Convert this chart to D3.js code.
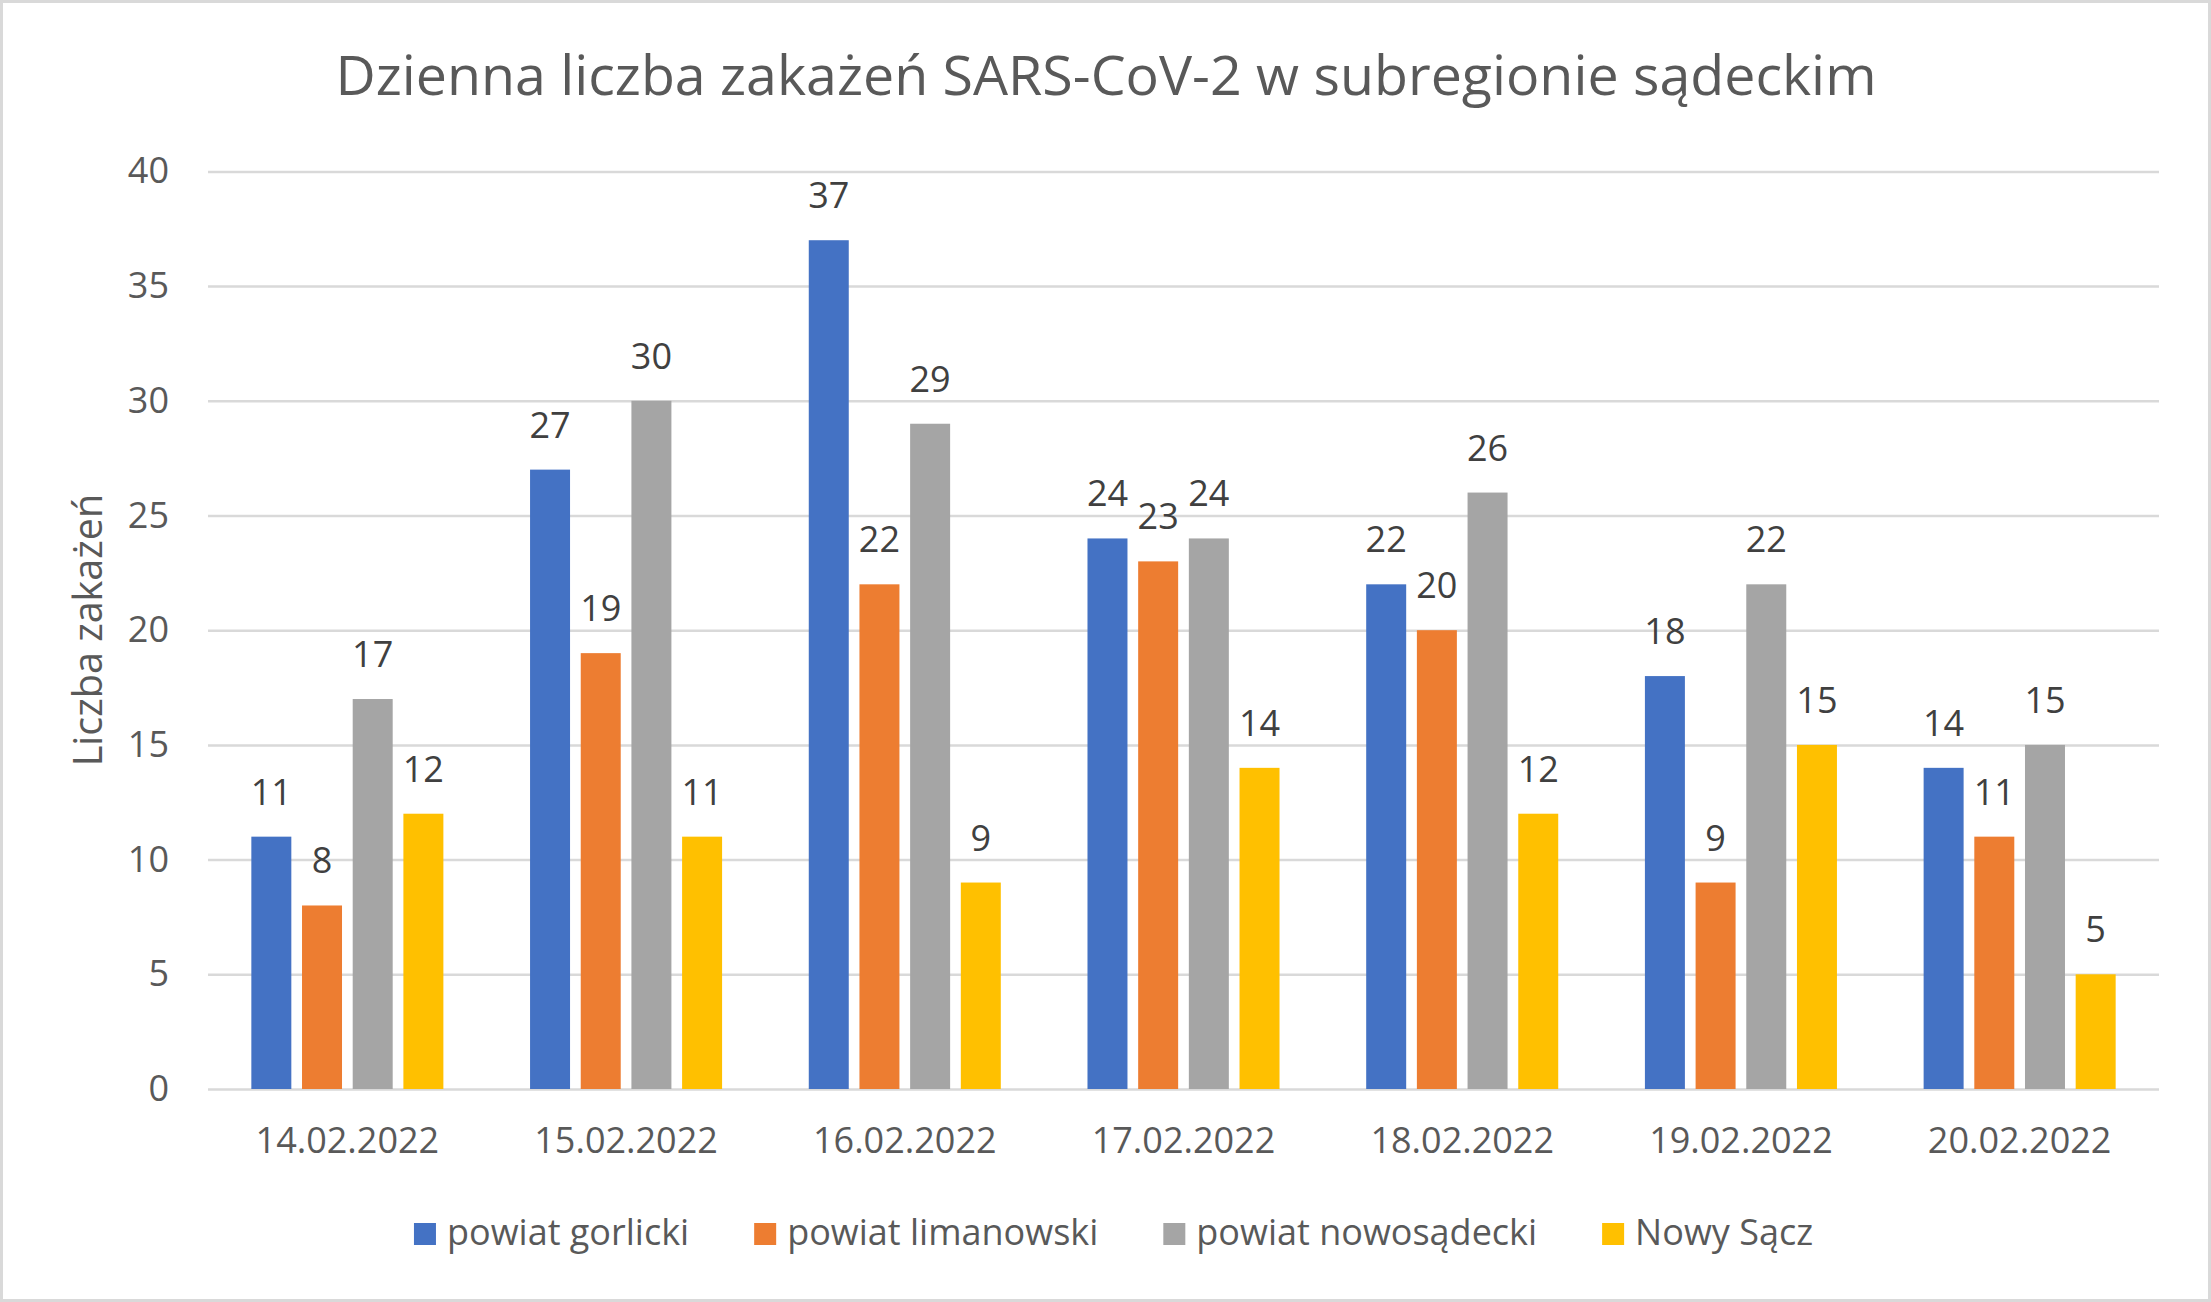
<!DOCTYPE html>
<html>
<head>
<meta charset="utf-8">
<script src="https://cdn.jsdelivr.net/npm/d3@7/dist/d3.min.js"></script>
<style>
  html, body { margin: 0; padding: 0; background: #ffffff; }
  svg { display: block; font-family: "Open Sans", sans-serif; }
</style>
</head>
<body>
<svg id="chart" width="2211" height="1302"></svg>
<script>
const categories = ["14.02.2022", "15.02.2022", "16.02.2022", "17.02.2022", "18.02.2022", "19.02.2022", "20.02.2022"];
const seriesNames = ["powiat gorlicki", "powiat limanowski", "powiat nowosądecki", "Nowy Sącz"];
const gorlicki = [11, 27, 37, 24, 22, 18, 14];
const limanowski = [8, 19, 22, 23, 20, 9, 11];
const nowosadecki = [17, 30, 29, 24, 26, 22, 15];
const nowySacz = [12, 11, 9, 14, 12, 15, 5];
const yTicks = [0, 5, 10, 15, 20, 25, 30, 35, 40];
const colors = ["#4472C4", "#ED7D31", "#A5A5A5", "#FFC000"];
const titleText = "Dzienna liczba zakażeń SARS-CoV-2 w subregionie sądeckim";
const yAxisTitle = "Liczba zakażeń";

const seriesValues = [gorlicki, limanowski, nowosadecki, nowySacz];

const svg = d3.select("#chart");
const W = 2211, H = 1302;
const plot = { left: 208, right: 2159, top: 171.4, bottom: 1089 };

// chart border
svg.append("rect").attr("x", 1.5).attr("y", 1.5).attr("width", W - 3).attr("height", H - 3)
  .attr("fill", "#fff").attr("stroke", "#d9d9d9").attr("stroke-width", 3);

const y = d3.scaleLinear().domain([0, 40]).range([plot.bottom, plot.top]);
const x0 = d3.scaleBand().domain(categories).range([plot.left, plot.right]).padding(0);
const groupW = x0.bandwidth() * 0.689;
const x1 = d3.scaleBand().domain(seriesNames)
  .range([(x0.bandwidth() - groupW) / 2, (x0.bandwidth() + groupW) / 2])
  .paddingInner(0.211).paddingOuter(0);

// gridlines
const yAxis = d3.axisLeft(y).tickValues(yTicks).tickSize(-(plot.right - plot.left)).tickPadding(39);
const gy = svg.append("g").attr("transform", `translate(${plot.left},0)`).call(yAxis);
gy.select(".domain").remove();
gy.selectAll(".tick line").attr("stroke", "#d9d9d9").attr("stroke-width", 2.5);
gy.selectAll(".tick text").attr("fill", "#595959").style("font-size", "36px")
  .style("font-family", "'Open Sans', sans-serif");

// x axis labels
const xAxis = d3.axisBottom(x0).tickSize(0).tickPadding(0);
const gx = svg.append("g").attr("transform", `translate(0,${plot.bottom})`).call(xAxis);
gx.select(".domain").remove();
gx.selectAll(".tick text").attr("fill", "#595959").style("font-size", "36px")
  .style("font-family", "'Open Sans', sans-serif")
  .attr("dy", null).attr("y", 64);

// bars
const groups = svg.append("g").selectAll("g").data(categories).join("g")
  .attr("transform", d => `translate(${x0(d)},0)`);

groups.selectAll("rect")
  .data((c, i) => seriesNames.map((s, k) => ({ s, k, v: seriesValues[k][i] })))
  .join("rect")
  .attr("x", d => x1(d.s))
  .attr("width", x1.bandwidth())
  .attr("y", d => y(d.v))
  .attr("height", d => y(0) - y(d.v))
  .attr("fill", d => colors[d.k]);

groups.selectAll("text.lbl")
  .data((c, i) => seriesNames.map((s, k) => ({ s, k, v: seriesValues[k][i] })))
  .join("text").attr("class", "lbl")
  .attr("x", d => x1(d.s) + x1.bandwidth() / 2)
  .attr("y", d => y(d.v) - 32)
  .attr("text-anchor", "middle")
  .attr("fill", "#404040")
  .style("font-size", "36px")
  .text(d => d.v);

// title
svg.append("text").attr("x", 1106).attr("y", 95).attr("text-anchor", "middle")
  .attr("fill", "#595959").style("font-size", "55.5px").text(titleText);

// y axis title
svg.append("text").attr("transform", `translate(102,630) rotate(-90)`)
  .attr("text-anchor", "middle").attr("fill", "#595959").style("font-size", "39.5px")
  .text(yAxisTitle);

// legend
const leg = svg.append("g");
const items = leg.selectAll("g").data(seriesNames).join("g");
items.append("rect").attr("x", 0).attr("y", -22).attr("width", 22).attr("height", 22)
  .attr("fill", (d, i) => colors[i]);
items.append("text").attr("x", 33).attr("y", 0).attr("fill", "#595959")
  .style("font-size", "36px").text(d => d);
let cx = 0;
items.each(function () {
  d3.select(this).attr("transform", `translate(${cx},0)`);
  cx += 33 + d3.select(this).select("text").node().getComputedTextLength() + 65;
});
const legW = cx - 65;
leg.attr("transform", `translate(${1113.5 - legW / 2},1245)`);
</script>
</body>
</html>
